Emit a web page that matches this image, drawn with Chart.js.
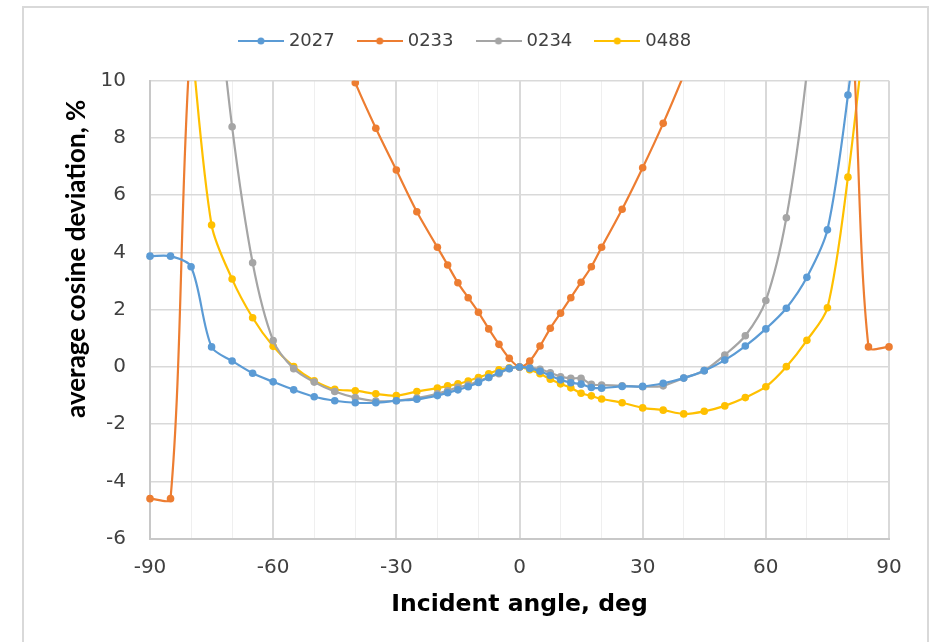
<!DOCTYPE html>
<html>
<head>
<meta charset="utf-8">
<script src="https://cdn.jsdelivr.net/npm/chart.js@4.4.1/dist/chart.umd.min.js"></script>
<style>
  html, body { margin: 0; padding: 0; background: #fff; }
  #wrap { position: relative; width: 929px; height: 642px; }
  #frame { position: absolute; left: 22px; top: 6px; width: 903px; height: 700px;
           border: 2px solid #d9d9d9; pointer-events: none; }
</style>
</head>
<body>
<div id="wrap">
  <canvas id="myChart" width="929" height="642"></canvas>
  <div id="frame"></div>
</div>
<script>
// incident angles, deg
const angles = [-90, -85, -80, -75, -70, -65, -60, -55, -50, -45, -40, -35, -30, -25, -20,
  -17.5, -15, -12.5, -10, -7.5, -5, -2.5, 0, 2.5, 5, 7.5, 10, 12.5, 15, 17.5,
  20, 25, 30, 35, 40, 45, 50, 55, 60, 65, 70, 75, 80, 85, 90];

// average cosine deviation, %  (values above 10 are off the chart, estimated)
const s2027 = [3.87, 3.87, 3.5, 0.7, 0.21, -0.22, -0.52, -0.8, -1.04, -1.18, -1.25, -1.25, -1.18, -1.13, -1.0,
  -0.9, -0.8, -0.69, -0.54, -0.37, -0.2, -0.06, 0, -0.05, -0.15, -0.3, -0.45, -0.55, -0.6, -0.72,
  -0.74, -0.68, -0.68, -0.57, -0.39, -0.13, 0.24, 0.73, 1.33, 2.05, 3.13, 4.79, 9.5, 16, 25];

const s0233 = [-4.6, -4.6, 11.6, 14, 15, 15.5, 15.5, 15, 13.8, 11.8, 9.93, 8.34, 6.88, 5.42, 4.18,
  3.56, 2.94, 2.42, 1.91, 1.33, 0.79, 0.3, 0, 0.21, 0.73, 1.35, 1.88, 2.42, 2.96, 3.5,
  4.18, 5.51, 6.96, 8.51, 10.2, 12, 13.8, 15, 15.5, 15.5, 15, 14.5, 13.8, 0.7, 0.7];

const s0234 = [40, 30, 22, 15, 8.39, 3.64, 0.92, -0.06, -0.53, -0.86, -1.07, -1.19, -1.18, -1.09, -0.94,
  -0.83, -0.71, -0.63, -0.49, -0.37, -0.24, -0.05, 0, -0.02, -0.08, -0.2, -0.34, -0.4, -0.4, -0.61,
  -0.63, -0.66, -0.69, -0.66, -0.39, -0.13, 0.42, 1.09, 2.32, 5.21, 10.3, 18, 28, 40, 55];

const s0488 = [25, 18, 11.5, 4.96, 3.07, 1.72, 0.72, 0.01, -0.48, -0.78, -0.83, -0.94, -1.0, -0.86, -0.74,
  -0.66, -0.59, -0.49, -0.37, -0.24, -0.1, -0.03, 0, -0.1, -0.24, -0.43, -0.59, -0.73, -0.92, -1.01,
  -1.12, -1.25, -1.43, -1.51, -1.64, -1.55, -1.36, -1.07, -0.69, 0.01, 0.93, 2.07, 6.63, 13, 20];

const seriesNames = ["2027", "0233", "0234", "0488"];
const seriesColors = ["#5B9BD5", "#ED7D31", "#A5A5A5", "#FFC000"];
const xTickLabels = [-90, -60, -30, 0, 30, 60, 90];

const allSeries = [s2027, s0233, s0234, s0488];

// legend sample: line with a dot in the middle
function legendMark(color) {
  const c = document.createElement("canvas");
  c.width = 46; c.height = 10;
  const g = c.getContext("2d");
  g.strokeStyle = color; g.lineWidth = 2;
  g.beginPath(); g.moveTo(0, 5); g.lineTo(46, 5); g.stroke();
  g.fillStyle = color;
  g.beginPath(); g.arc(23, 5, 3.5, 0, Math.PI * 2); g.fill();
  return c;
}
const marks = seriesColors.map(legendMark);

const datasets = allSeries.map((vals, i) => ({
  label: seriesNames[i],
  data: vals.map((v, j) => ({ x: angles[j], y: v })),
  borderColor: seriesColors[i],
  backgroundColor: seriesColors[i],
  borderWidth: 2.2,
  pointRadius: 3.8,
  pointBorderWidth: 0,
  pointBackgroundColor: seriesColors[i],
  tension: 0.3,
  clip: { left: 6, right: 6, top: 0, bottom: 6 }
}));

// fixed legend height so the plot starts where it should, and nudge it right
const legendBox = {
  id: "legendBox",
  beforeInit(chart) {
    const fit = chart.legend.fit;
    chart.legend.fit = function () {
      fit.call(this);
      this.height = 74.7;
    };
  },
  afterLayout(chart) {
    chart.legend.left += 22;
    chart.legend.right += 22;
  }
};

const ctx = document.getElementById("myChart").getContext("2d");

new Chart(ctx, {
  type: "line",
  data: { datasets: datasets },
  plugins: [legendBox],
  options: {
    responsive: false,
    animation: false,
    events: [],
    layout: { padding: { top: 6, right: 40, bottom: 0, left: 0 } },
    plugins: {
      tooltip: { enabled: false },
      legend: {
        position: "top",
        labels: {
          usePointStyle: true,
          pointStyleWidth: 38,
          padding: 26,
          color: "#404040",
          font: { family: "DejaVu Sans", size: 18 },
          generateLabels: chart =>
            Chart.defaults.plugins.legend.labels.generateLabels(chart)
              .map((l, i) => ({ ...l, pointStyle: marks[i] }))
        }
      }
    },
    scales: {
      x: {
        type: "linear",
        min: -90,
        max: 90,
        afterFit: s => { s.height = 103.3; },
        ticks: {
          stepSize: 10,
          autoSkip: false,
          maxRotation: 0,
          padding: 17,
          color: "#404040",
          font: { family: "DejaVu Sans", size: 20 },
          callback: v => xTickLabels.includes(v) ? String(v) : ""
        },
        grid: {
          drawTicks: false,
          color: c => (c.tick && c.tick.value % 30 === 0) ? "#d9d9d9" : "#efefef",
          lineWidth: c => (c.tick && c.tick.value % 30 === 0) ? 2 : 1
        },
        border: { color: "#c8c8c8", width: 2 },
        title: {
          display: true,
          text: "Incident angle, deg",
          color: "#000",
          font: { family: "DejaVu Sans", size: 23.5, weight: "bold" },
          padding: { top: 0, bottom: 23 }
        }
      },
      y: {
        min: -6,
        max: 10,
        afterFit: s => { s.width = 150; },
        ticks: {
          stepSize: 2,
          padding: 24,
          color: "#404040",
          font: { family: "DejaVu Sans", size: 20 }
        },
        grid: { drawTicks: false, color: "#d9d9d9", lineWidth: 1.5 },
        border: { color: "#c8c8c8", width: 2 },
        title: {
          display: true,
          text: "average cosine deviation, %\u00a0\u00a0\u00a0",
          align: "end",
          color: "#000",
          font: { family: "Lato", size: 26, weight: "bold" },
          padding: { top: 61, bottom: 0 }
        }
      }
    }
  }
});
</script>
</body>
</html>
